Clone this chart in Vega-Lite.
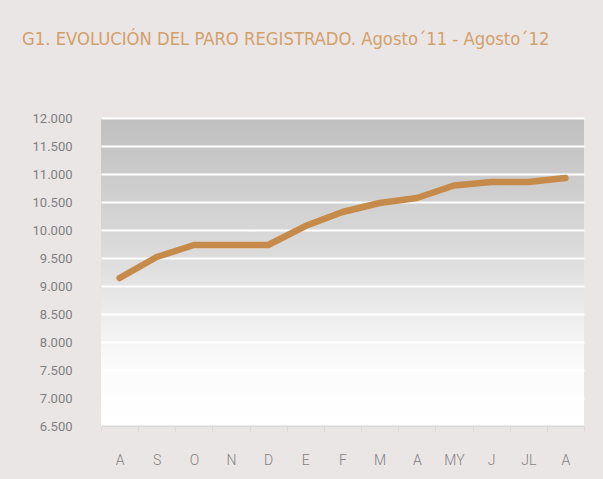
{
  "$schema": "https://vega.github.io/schema/vega-lite/v6.json",
  "autosize": {"type": "none"},
  "width": 483,
  "height": 308,
  "padding": {"left": 101, "top": 118, "right": 19, "bottom": 53},
  "background": "#ebe6e6",
  "title": {
    "text": "G1. EVOLUCIÓN DEL PARO REGISTRADO. Agosto´11 - Agosto´12",
    "anchor": "start",
    "frame": "group",
    "dx": -79,
    "offset": 63,
    "font": "DejaVu Sans Condensed",
    "fontSize": 18.3,
    "fontWeight": "normal",
    "color": "#d2a06b"
  },
  "config": {
    "view": {
      "stroke": null,
      "fill": {
        "gradient": "linear",
        "x1": 0, "y1": 0, "x2": 0, "y2": 1,
        "stops": [
          {"offset": 0, "color": "#bfbfbf"},
          {"offset": 0.45, "color": "#dcdcdc"},
          {"offset": 0.8, "color": "#fbfbfb"},
          {"offset": 1, "color": "#ffffff"}
        ]
      }
    },
    "axis": {"labelFont": "Roboto", "labelColor": "#7f7f7f", "titleFont": "Roboto"}
  },
  "data": {
    "values": [
      {"mes": "A1", "parados": 9143},
      {"mes": "S", "parados": 9518},
      {"mes": "O", "parados": 9732},
      {"mes": "N", "parados": 9732},
      {"mes": "D", "parados": 9732},
      {"mes": "E", "parados": 10071},
      {"mes": "F", "parados": 10321},
      {"mes": "M", "parados": 10482},
      {"mes": "A2", "parados": 10571},
      {"mes": "MY", "parados": 10795},
      {"mes": "J", "parados": 10857},
      {"mes": "JL", "parados": 10857},
      {"mes": "A3", "parados": 10929}
    ]
  },
  "mark": {"type": "line", "color": "#c68b4a", "strokeWidth": 6.5, "strokeCap": "round", "strokeJoin": "round"},
  "encoding": {
    "x": {
      "field": "mes",
      "type": "ordinal",
      "sort": null,
      "bandPosition": 0.5,
      "scale": {"type": "band", "paddingInner": 0, "paddingOuter": 0},
      "axis": {
        "title": null,
        "labelAngle": 0,
        "labelExpr": "indexof(['A1','A2','A3'], datum.label) >= 0 ? 'A' : datum.label",
        "labelFontSize": 14,
        "labelFontWeight": 300,
        "labelPadding": 22,
        "tickBand": "extent",
        "tickSize": 5,
        "tickColor": "#d9d9d9",
        "domainColor": "#d9d9d9",
        "domainWidth": 2,
        "grid": false
      }
    },
    "y": {
      "field": "parados",
      "type": "quantitative",
      "scale": {"domain": [6500, 12000], "nice": false, "zero": false},
      "axis": {
        "title": null,
        "values": [6500, 7000, 7500, 8000, 8500, 9000, 9500, 10000, 10500, 11000, 11500, 12000],
        "labelExpr": "replace(format(datum.value, ','), ',', '.')",
        "labelFontSize": 13,
        "labelPadding": 29,
        "ticks": false,
        "domain": false,
        "grid": true,
        "gridColor": "#ffffff",
        "gridWidth": 2,
        "gridOpacity": 1
      }
    }
  }
}
